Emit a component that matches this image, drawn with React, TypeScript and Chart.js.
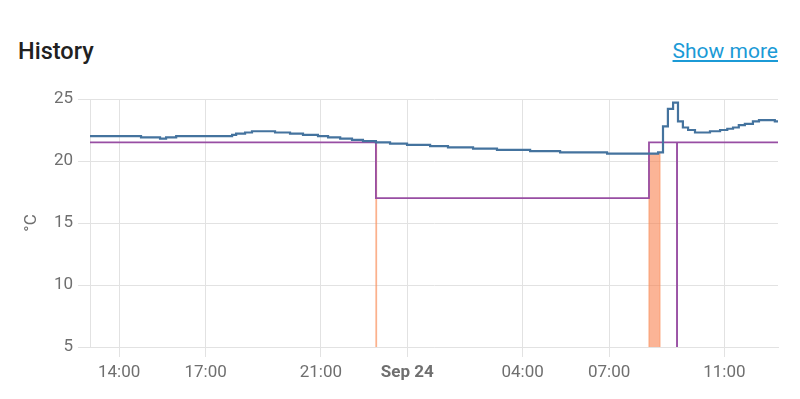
import React, { useEffect, useRef } from "react";
import { Chart, registerables } from "chart.js";

Chart.register(...registerables);

// Hours since Sep 23 00:00
const currentHours = [
  12.99, 14.76, 15.42, 15.63, 15.98, 17.92, 18.06, 18.37, 18.61, 19.41, 19.93, 20.38, 20.9,
  21.25, 21.67, 22.08, 22.46, 22.91, 23.4, 23.99, 24.79, 25.41, 26.28, 27.11, 28.26, 29.3,
  30.93, 32.7, 32.87, 33.04, 33.22, 33.39, 33.56, 33.74, 33.98, 34.5, 34.85, 35.1, 35.3, 35.5,
  35.71, 35.99, 36.2, 36.75, 36.86,
];
const currentTemp = [
  22.0, 21.9, 21.8, 21.9, 22.0, 22.1, 22.2, 22.3, 22.4, 22.3, 22.2, 22.1, 22.0,
  21.9, 21.8, 21.7, 21.6, 21.5, 21.4, 21.3, 21.2, 21.1, 21.0, 20.9, 20.8, 20.7,
  20.6, 20.7, 22.8, 24.2, 24.7, 23.2, 22.7, 22.5, 22.3, 22.4, 22.5, 22.6, 22.7, 22.9,
  23.0, 23.2, 23.3, 23.2, 23.2,
];

const targetHours = [12.99, 22.91, 32.384, 33.355, 33.358, 36.86];
const targetTemp = [21.5, 17.0, 21.5, 0, 21.5, 21.5];

const heatingHours = [12.99, 22.91, 22.93, 32.384, 32.765, 36.86];
const heatingTemp = [0, 21.5, 0, 20.6, 0, 0];

const xTickValues = [14, 17, 21, 24, 28, 31, 35];
const xTickLabels = ["14:00", "17:00", "21:00", "Sep 24", "04:00", "07:00", "11:00"];

const yMin = 5;
const yMax = 25;
const yStep = 5;

const toPoints = (xs: number[], ys: number[]) => xs.map((x, i) => ({ x, y: ys[i] }));

const TICK_COLOR = "#6f6f6f";
const GRID_COLOR = "#e2e2e2";

export default function App() {
  const canvasRef = useRef<HTMLCanvasElement | null>(null);

  useEffect(() => {
    const canvas = canvasRef.current;
    if (!canvas) return;
    const chart = new Chart(canvas, {
      type: "line",
      data: {
        datasets: [
          {
            label: "Current temperature",
            data: toPoints(currentHours, currentTemp),
            borderColor: "#44739e",
            backgroundColor: "#44739e",
            borderWidth: 2.2,
            stepped: true,
            pointRadius: 0,
            fill: false,
          },
          {
            label: "Target temperature",
            data: toPoints(targetHours, targetTemp),
            borderColor: "#984ea3",
            backgroundColor: "#984ea3",
            borderWidth: 1.8,
            stepped: true,
            pointRadius: 0,
            fill: false,
          },
          {
            label: "Heating",
            data: toPoints(heatingHours, heatingTemp),
            borderColor: "rgba(250,150,100,0.6)",
            backgroundColor: "rgba(248,130,80,0.6)",
            borderWidth: 1.3,
            stepped: true,
            pointRadius: 0,
            fill: "origin",
          },
        ],
      },
      options: {
        responsive: false,
        animation: false,
        layout: { padding: { top: 99, right: 22, bottom: 0, left: 0 } },
        plugins: { legend: { display: false }, tooltip: { enabled: false } },
        scales: {
          x: {
            type: "linear",
            min: 12.99,
            max: 36.86,
            afterBuildTicks: (scale: any) => {
              scale.ticks = xTickValues.map((v) => ({ value: v }));
            },
            afterFit: (scale: any) => {
              scale.height = 52;
            },
            grid: { color: GRID_COLOR, tickLength: 10, drawTicks: true },
            border: { display: true, color: GRID_COLOR },
            ticks: {
              autoSkip: false,
              maxRotation: 0,
              padding: 6,
              color: TICK_COLOR,
              font: (ctx: any) => ({
                family: "Roboto",
                size: 17,
                weight: ctx.tick && ctx.tick.value === 24 ? "bold" : "normal",
              }),
              callback: (value: any) => {
                const i = xTickValues.indexOf(Number(value));
                return i >= 0 ? xTickLabels[i] : "";
              },
            },
          },
          y: {
            type: "linear",
            min: yMin,
            max: yMax,
            afterFit: (scale: any) => {
              scale.width = 90;
            },
            grid: { color: GRID_COLOR, tickLength: 12, drawTicks: true },
            border: { display: true, color: GRID_COLOR },
            ticks: {
              stepSize: yStep,
              padding: 5,
              color: TICK_COLOR,
              font: { family: "Roboto", size: 17 },
            },
            title: {
              display: true,
              text: "°C",
              color: TICK_COLOR,
              font: { family: "Roboto", size: 17 },
              padding: { top: 22, bottom: 0 },
            },
          },
        },
      },
    });
    return () => chart.destroy();
  }, []);

  return (
    <div
      style={{
        position: "fixed",
        left: 0,
        top: 0,
        width: 800,
        height: 399,
        background: "#ffffff",
        fontFamily: "Roboto, sans-serif",
      }}
    >
      <div
        style={{
          position: "absolute",
          left: 18,
          top: 40,
          fontSize: 23.5,
          lineHeight: "23.5px",
          fontWeight: 500,
          color: "#212121",
          whiteSpace: "nowrap",
        }}
      >
        History
      </div>
      <a
        href="#"
        style={{
          position: "absolute",
          right: 22,
          top: 41,
          fontSize: 21,
          lineHeight: "21px",
          color: "#1b9ad6",
          textDecoration: "underline",
          whiteSpace: "nowrap",
        }}
      >
        Show more
      </a>
      <canvas
        ref={canvasRef}
        width={800}
        height={399}
        style={{ position: "absolute", left: 0, top: 0, width: 800, height: 399 }}
      />
    </div>
  );
}
